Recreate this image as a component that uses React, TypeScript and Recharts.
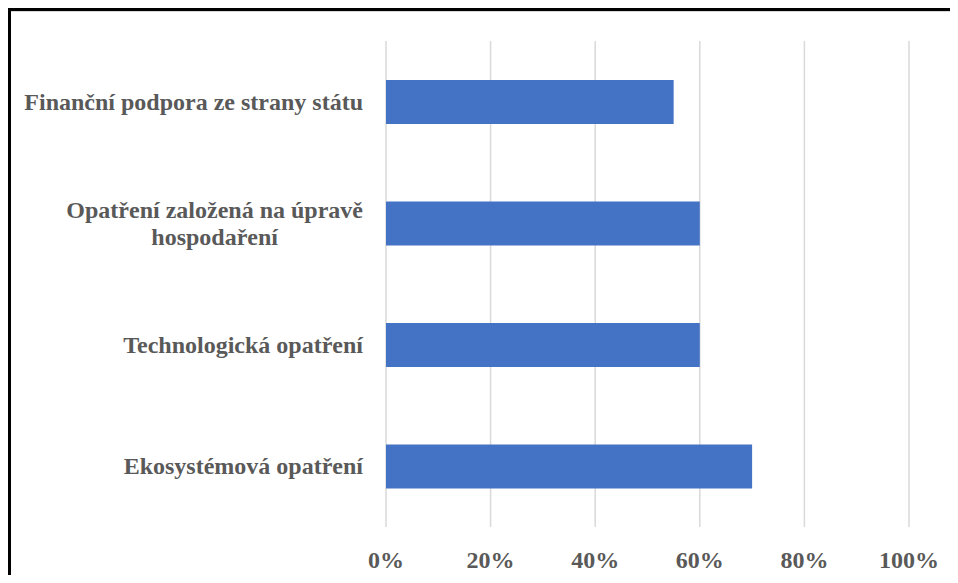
import { Bar, BarChart, CartesianGrid, XAxis, YAxis } from "recharts";

const categories = [
  "Finanční podpora ze strany státu",
  "Opatření založená na úpravě\nhospodaření",
  "Technologická opatření",
  "Ekosystémová opatření",
];
const shares = [55, 60, 60, 70];
const xTicks = [0, 20, 40, 60, 80, 100];

const data = categories.map((name, i) => ({ name, value: shares[i] }));

const FONT = "'Liberation Serif', 'Times New Roman', serif";
const TEXT = "#595959";
const SIZE = 24;

let ctx: CanvasRenderingContext2D | null = null;
function measure(s: string) {
  if (!ctx) ctx = document.createElement("canvas").getContext("2d");
  if (!ctx) return s.length * SIZE * 0.5;
  ctx.font = `bold ${SIZE}px ${FONT}`;
  return ctx.measureText(s).width;
}

// wrapped lines are centred on each other, the block sits right-aligned
function CategoryTick({ x, y, payload }: any) {
  const lines = String(payload.value).split("\n");
  const w = Math.max(...lines.map(measure));
  const cx = x - 21 - w / 2;
  const lh = 27;
  const y0 = y - ((lines.length - 1) * lh) / 2;
  return (
    <text
      x={cx}
      y={y0}
      textAnchor="middle"
      dominantBaseline="central"
      fill={TEXT}
      fontFamily={FONT}
      fontWeight="bold"
      fontSize={SIZE}
    >
      {lines.map((l, i) => (
        <tspan key={i} x={cx} y={y0 + i * lh}>
          {l}
        </tspan>
      ))}
    </text>
  );
}

function PercentTick({ x, y, payload }: any) {
  return (
    <text
      x={x}
      y={y + 31}
      textAnchor="middle"
      dominantBaseline="central"
      fill={TEXT}
      fontFamily={FONT}
      fontWeight="bold"
      fontSize={SIZE}
    >
      {payload.value}%
    </text>
  );
}

export default function App() {
  return (
    <div style={{ position: "relative", width: 942, height: 567, overflow: "visible" }}>
      <style>{`body{overflow:hidden;background:#fff}`}</style>
      {/* outer frame: only top and left edges fall inside the window */}
      <div style={{ position: "absolute", left: 0, top: 0, width: 1200, height: 3, background: "#000" }} />
      <div style={{ position: "absolute", left: 0, top: 3, width: 1200, height: 1, background: "#d9d9d9" }} />
      <div style={{ position: "absolute", left: 0, top: 0, width: 3, height: 900, background: "#000" }} />
      <div style={{ position: "absolute", left: 0, top: 0 }}>
        <BarChart
          width={950}
          height={575}
          data={data}
          layout="vertical"
          barCategoryGap="32%"
          margin={{ top: 33, right: 49, bottom: 16, left: 0 }}
        >
          <CartesianGrid horizontal={false} stroke="#d9d9d9" strokeWidth={1.5} />
          <XAxis
            type="number"
            domain={[0, 100]}
            ticks={xTicks}
            axisLine={false}
            tickLine={false}
            tickSize={0}
            height={40}
            tick={<PercentTick />}
          />
          <YAxis
            type="category"
            dataKey="name"
            width={378}
            axisLine={false}
            tickLine={false}
            tickSize={0}
            interval={0}
            tick={<CategoryTick />}
          />
          <Bar dataKey="value" fill="#4472C4" isAnimationActive={false} />
        </BarChart>
      </div>
    </div>
  );
}
